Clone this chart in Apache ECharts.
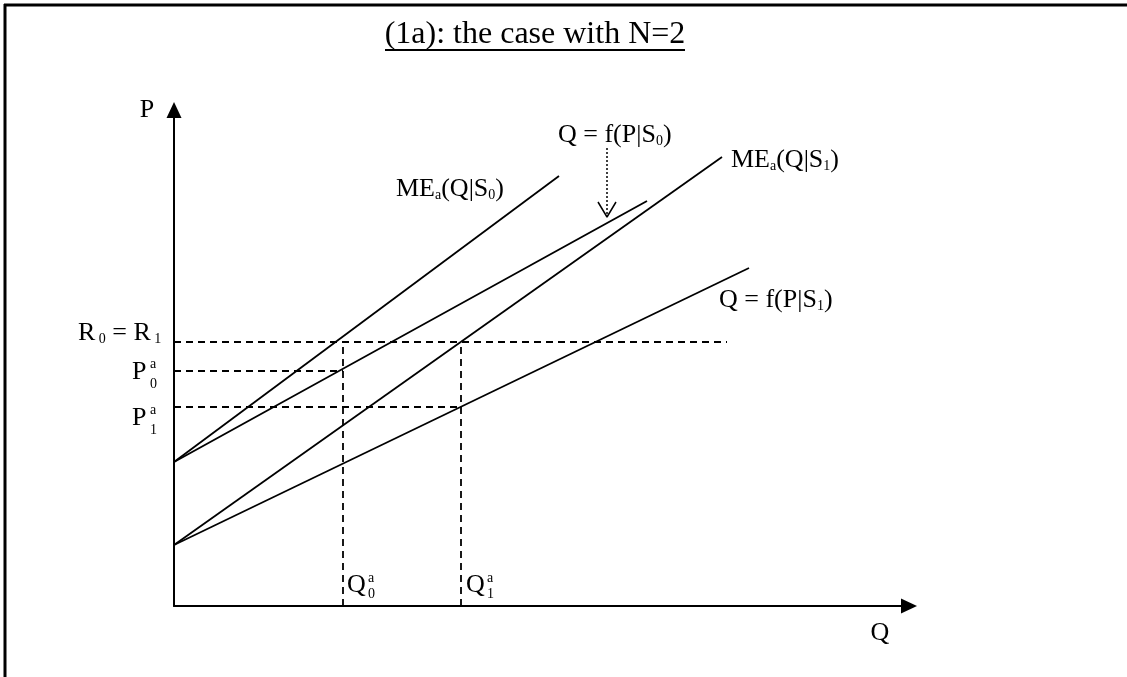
<!DOCTYPE html>
<html>
<head>
<meta charset="utf-8">
<script src="https://cdn.jsdelivr.net/npm/echarts@6/dist/echarts.min.js"></script>
<style>
html, body { margin: 0; padding: 0; background: #fff; }
#main { width: 1127px; height: 677px; }
</style>
</head>
<body>
<div id="main"></div>
<script>
// data units: Q to the right of the origin, P upward from the origin
var meS0 = [[0, 144], [385, 430]];        // ME_a(Q|S0)
var supS0 = [[0, 144], [473, 405]];       // Q = f(P|S0)
var meS1 = [[0, 61], [548, 449]];         // ME_a(Q|S1)
var supS1 = [[0, 61], [575, 338]];        // Q = f(P|S1)

var lineR = [[0, 264], [553, 264]];       // R0 = R1
var lineP0 = [[0, 235], [169, 235]];
var lineP1 = [[0, 199], [287, 199]];
var lineQ0 = [[169, 0], [169, 264]];
var lineQ1 = [[287, 0], [287, 264]];

var pointer = [[433, 458], [433, 390]];   // dotted arrow to Q = f(P|S0)
var pointerHead = [[424, 404], [433, 389], [442, 404]];

var FONT = 'Liberation Serif';

function seg(data, type, width) {
    return {
        type: 'line',
        data: data,
        symbol: 'none',
        silent: true,
        animation: false,
        lineStyle: { color: '#000', width: width, type: type }
    };
}

function txt(x, y, text, size, align) {
    return {
        type: 'text',
        x: x,
        y: y,
        silent: true,
        style: {
            text: text,
            fontFamily: FONT,
            fontSize: size,
            fill: '#000',
            align: align || 'left',
            verticalAlign: 'middle'
        }
    };
}

function rich(x, y, text) {
    return {
        type: 'text',
        x: x,
        y: y,
        silent: true,
        style: {
            text: text,
            fontFamily: FONT,
            fill: '#000',
            verticalAlign: 'middle',
            rich: {
                m: { fontFamily: FONT, fontSize: 26, lineHeight: 30, verticalAlign: 'bottom' },
                s: { fontFamily: FONT, fontSize: 14, lineHeight: 14, verticalAlign: 'bottom' }
            }
        }
    };
}

function rule(x1, y1, x2, y2, w) {
    return {
        type: 'line',
        silent: true,
        shape: { x1: x1, y1: y1, x2: x2, y2: y2 },
        style: { stroke: '#000', lineWidth: w }
    };
}

var chart = echarts.init(document.getElementById('main'));

var axisStyle = {
    show: true,
    symbol: ['none', 'triangle'],
    symbolSize: [15, 16],
    lineStyle: { color: '#000', width: 2 }
};

chart.setOption({
    backgroundColor: '#fff',
    animation: false,
    grid: { left: 174, top: 110, right: 218, bottom: 71 },
    xAxis: {
        type: 'value', min: 0, max: 735,
        axisLine: axisStyle,
        axisTick: { show: false }, axisLabel: { show: false }, splitLine: { show: false }
    },
    yAxis: {
        type: 'value', min: 0, max: 496,
        axisLine: axisStyle,
        axisTick: { show: false }, axisLabel: { show: false }, splitLine: { show: false }
    },
    series: [
        seg(meS0, 'solid', 1.8),
        seg(supS0, 'solid', 1.8),
        seg(meS1, 'solid', 1.8),
        seg(supS1, 'solid', 1.8),
        seg(lineR, [7, 5], 1.8),
        seg(lineP0, [7, 5], 1.8),
        seg(lineP1, [7, 5], 1.8),
        seg(lineQ0, [7, 5], 1.8),
        seg(lineQ1, [7, 5], 1.8),
        seg(pointer, [2, 2], 1.5),
        seg(pointerHead, 'solid', 1.5)
    ],
    graphic: [
        // frame
        rule(4, 5, 1127, 5, 3),
        rule(5, 4, 5, 677, 3),
        // title
        txt(535, 35, '(1a): the case with N=2', 32, 'center'),
        rule(385, 50, 685, 50, 2),
        // axis names
        txt(147, 110, 'P', 26, 'center'),
        txt(880, 633, 'Q', 26, 'center'),
        // curve labels
        rich(396, 187, '{m|ME}{s|a}{m|(Q|S}{s|0}{m|)}'),
        rich(731, 158, '{m|ME}{s|a}{m|(Q|S}{s|1}{m|)}'),
        rich(558, 133, '{m|Q = f(P|S}{s|0}{m|)}'),
        rich(719, 298, '{m|Q = f(P|S}{s|1}{m|)}'),
        rich(78, 331, '{m|R}{s| 0}{m| = R}{s| 1}'),
        // stacked labels
        txt(132, 372, 'P', 26), txt(150, 364, 'a', 14), txt(150, 384, '0', 14),
        txt(132, 418, 'P', 26), txt(150, 410, 'a', 14), txt(150, 430, '1', 14),
        txt(347, 585, 'Q', 26), txt(368, 578, 'a', 14), txt(368, 594, '0', 14),
        txt(466, 585, 'Q', 26), txt(487, 578, 'a', 14), txt(487, 594, '1', 14)
    ]
});
</script>
</body>
</html>
